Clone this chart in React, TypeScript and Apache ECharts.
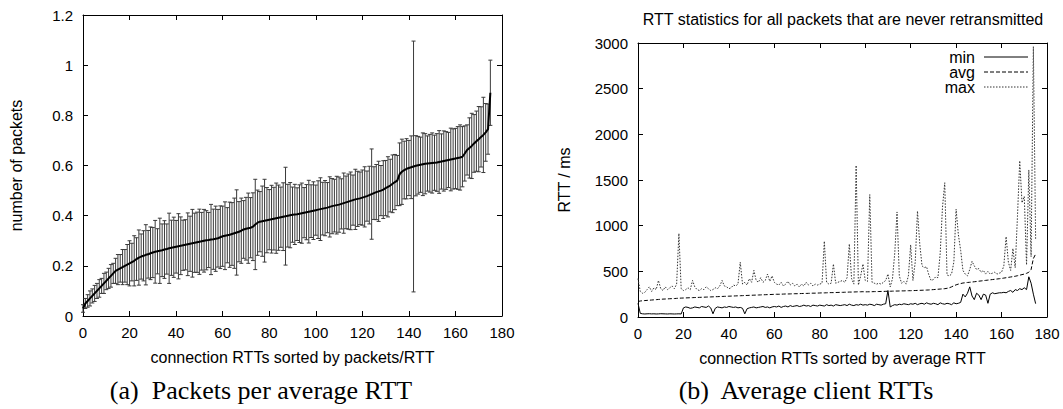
import React, { useEffect, useRef } from 'react';
import * as echarts from 'echarts';

// ---- (a) packets per average RTT: mean and spread (error bar half-height) per connection ----
const packetMean = [
  0.03, 0.05, 0.06, 0.07, 0.08, 0.09, 0.10, 0.11, 0.12, 0.13,
  0.14, 0.15, 0.16, 0.17, 0.18, 0.185, 0.19, 0.195, 0.20, 0.205,
  0.21, 0.215, 0.22, 0.227, 0.233, 0.237, 0.24, 0.244, 0.246, 0.25,
  0.253, 0.256, 0.258, 0.26, 0.262, 0.265, 0.267, 0.27, 0.272, 0.274,
  0.276, 0.278, 0.28, 0.282, 0.284, 0.286, 0.288, 0.29, 0.292, 0.294,
  0.296, 0.298, 0.30, 0.302, 0.303, 0.305, 0.306, 0.308, 0.31, 0.314,
  0.318, 0.32, 0.322, 0.324, 0.327, 0.33, 0.333, 0.336, 0.34, 0.345,
  0.348, 0.35, 0.352, 0.356, 0.365, 0.372, 0.376, 0.378, 0.38, 0.382,
  0.384, 0.386, 0.388, 0.39, 0.392, 0.394, 0.396, 0.398, 0.40, 0.402,
  0.404, 0.405, 0.406, 0.408, 0.41, 0.412, 0.414, 0.416, 0.418, 0.42,
  0.422, 0.424, 0.426, 0.428, 0.43, 0.432, 0.435, 0.438, 0.44, 0.442,
  0.444, 0.447, 0.45, 0.453, 0.456, 0.459, 0.462, 0.465, 0.467, 0.469,
  0.472, 0.475, 0.478, 0.482, 0.486, 0.49, 0.494, 0.497, 0.50, 0.504,
  0.51, 0.515, 0.52, 0.527, 0.534, 0.54, 0.565, 0.575, 0.582, 0.587,
  0.59, 0.593, 0.596, 0.599, 0.601, 0.603, 0.605, 0.607, 0.608, 0.609,
  0.61, 0.611, 0.612, 0.614, 0.616, 0.618, 0.62, 0.622, 0.624, 0.626,
  0.628, 0.63, 0.632, 0.635, 0.648, 0.662, 0.67, 0.678, 0.688, 0.697,
  0.705, 0.714, 0.722, 0.732, 0.745, 0.89,
];

const packetSpread = [
  0.015, 0.02, 0.025, 0.03, 0.028, 0.032, 0.03, 0.035, 0.03, 0.04,
  0.035, 0.04, 0.045, 0.04, 0.05, 0.06, 0.055, 0.07, 0.065, 0.08,
  0.09, 0.075, 0.1, 0.085, 0.11, 0.09, 0.1, 0.12, 0.095, 0.105,
  0.1, 0.125, 0.09, 0.13, 0.105, 0.115, 0.1, 0.14, 0.11, 0.12,
  0.105, 0.13, 0.115, 0.1, 0.1, 0.125, 0.11, 0.135, 0.118, 0.12,
  0.13, 0.115, 0.125, 0.118, 0.11, 0.14, 0.12, 0.13, 0.115, 0.125,
  0.12, 0.135, 0.11, 0.13, 0.125, 0.14, 0.17, 0.12, 0.13, 0.115,
  0.125, 0.14, 0.12, 0.135, 0.18, 0.13, 0.12, 0.14, 0.165, 0.13,
  0.12, 0.135, 0.125, 0.14, 0.13, 0.12, 0.135, 0.195, 0.125, 0.13,
  0.11, 0.12, 0.105, 0.115, 0.12, 0.1, 0.11, 0.125, 0.105, 0.115,
  0.1, 0.115, 0.125, 0.105, 0.11, 0.1, 0.12, 0.11, 0.105, 0.115,
  0.11, 0.1, 0.12, 0.105, 0.11, 0.115, 0.1, 0.12, 0.11, 0.105,
  0.11, 0.12, 0.1, 0.115, 0.18, 0.105, 0.11, 0.12, 0.1, 0.115,
  0.11, 0.12, 0.105, 0.115, 0.11, 0.1, 0.125, 0.13, 0.115, 0.12,
  0.11, 0.125, 0.5, 0.12, 0.115, 0.11, 0.125, 0.12, 0.11, 0.115,
  0.12, 0.11, 0.115, 0.125, 0.11, 0.12, 0.115, 0.11, 0.125, 0.12,
  0.12, 0.125, 0.13, 0.12, 0.11, 0.1, 0.12, 0.13, 0.115, 0.12,
  0.13, 0.12, 0.15, 0.115, 0.1, 0.13,
];

// ---- (b) RTT statistics (ms) per connection ----
const minRtt = [
  150, 40, 35, 33, 35, 36, 34, 35, 33, 34,
  36, 35, 34, 33, 35, 34, 33, 34, 35, 33,
  100, 110, 105, 95, 100, 110, 105, 100, 115, 110,
  105, 120, 100, 35, 95, 110, 105, 100, 110, 105,
  115, 110, 105, 110, 100, 105, 95, 35, 90, 100,
  105, 110, 100, 105, 110, 115, 105, 110, 100, 110,
  115, 110, 120, 105, 115, 120, 110, 125, 115, 120,
  125, 115, 120, 130, 120, 125, 115, 130, 125, 120,
  130, 125, 120, 135, 125, 130, 120, 135, 130, 125,
  130, 135, 125, 140, 130, 125, 135, 130, 140, 130,
  135, 130, 140, 135, 125, 140, 135, 130, 140, 145,
  290, 110, 125, 135, 130, 140, 135, 145, 140, 135,
  145, 140, 150, 135, 145, 150, 140, 155, 145, 140,
  150, 145, 135, 155, 145, 140, 150, 145, 135, 155,
  145, 150, 160, 250, 220, 260, 330, 230, 190, 260,
  240, 190, 250, 240, 150, 250, 265, 255, 260, 265,
  265, 270, 265, 280, 290, 270, 300, 290, 310, 300,
  320, 300, 440, 370, 250, 146,
];

const avgRtt = [
  170, 175, 178, 180, 182, 184, 186, 188, 190, 192,
  194, 196, 197, 198, 200, 201, 202, 204, 206, 207,
  208, 209, 210, 211, 212, 213, 214, 215, 216, 217,
  218, 219, 220, 221, 222, 223, 224, 225, 226, 227,
  228, 229, 230, 231, 232, 233, 234, 235, 236, 237,
  238, 239, 240, 241, 242, 243, 244, 245, 246, 247,
  248, 249, 249, 250, 251, 252, 252, 253, 254, 255,
  255, 256, 257, 258, 258, 259, 260, 261, 261, 262,
  263, 264, 264, 265, 266, 267, 267, 268, 269, 270,
  270, 271, 272, 273, 273, 274, 275, 276, 276, 277,
  275, 276, 276, 277, 278, 278, 279, 280, 280, 281,
  282, 282, 283, 284, 284, 285, 286, 286, 287, 288,
  288, 289, 290, 291, 292, 293, 294, 295, 296, 298,
  300, 302, 304, 306, 308, 310, 314, 320, 330, 342,
  352, 360, 366, 372, 375, 378, 380, 383, 386, 389,
  392, 395, 398, 401, 404, 407, 410, 413, 416, 419,
  422, 426, 430, 434, 438, 442, 446, 452, 458, 464,
  470, 478, 490, 520, 640, 690,
];

const maxRtt = [
  420, 280, 260, 270, 300, 330, 280, 320, 300, 400,
  310, 290, 330, 300, 320, 340, 310, 360, 915, 310,
  290, 300, 320, 300, 400, 330, 300, 290, 310, 300,
  330, 310, 290, 300, 320, 310, 340, 400, 340, 330,
  310, 320, 350, 340, 360, 600, 360, 380, 350, 420,
  380, 510, 400, 380, 430, 380, 400, 470, 390, 450,
  380, 360, 350, 380, 340, 360, 390, 350, 370, 340,
  360, 330, 360, 340, 380, 350, 370, 340, 360, 350,
  360, 370, 830, 380, 360, 370, 580, 370, 380, 390,
  400, 380, 430, 800, 420, 360, 1660, 350, 450, 580,
  400, 390, 1340, 380, 370, 360, 370, 360, 380, 400,
  470, 330, 420, 700, 1150, 450, 370, 390, 360, 450,
  790, 400, 600, 1160, 800, 560, 540, 550, 460, 400,
  410, 440, 430, 700, 1200, 1470, 460, 450, 470, 600,
  1180, 900, 730, 510, 470, 450, 520, 610, 560, 520,
  530, 490, 510, 470, 500, 470, 480, 490, 470, 480,
  490, 560, 880, 600, 510, 750, 540, 1100, 1710, 1250,
  1320, 570, 1610, 660, 2960, 840,
];

const titleB = 'RTT statistics for all packets that are never retransmitted';
const legendNames = ['min', 'avg', 'max'];
const captionA = '(a)  Packets per average RTT';
const captionB = '(b)  Average client RTTs';

const SANS = '"Liberation Sans", Arial, Helvetica, sans-serif';
const SERIF = '"Liberation Serif", "Times New Roman", serif';

function xAxisCfg(gridIndex: number, position: string, labels: boolean, name?: string) {
  return {
    type: 'value',
    gridIndex,
    position,
    min: 0,
    max: 180,
    interval: 20,
    name: name || '',
    nameLocation: 'middle',
    nameGap: 33,
    nameTextStyle: { color: '#000', fontSize: 16, fontFamily: SANS },
    axisLine: { show: true, onZero: false, lineStyle: { color: '#000', width: 1 } },
    axisTick: { show: true, inside: true, length: 5, lineStyle: { color: '#000', width: 1 } },
    axisLabel: { show: labels, color: '#000', fontSize: 15, fontFamily: SANS, margin: 9 },
    splitLine: { show: false },
  };
}

function yAxisCfg(gridIndex: number, position: string, labels: boolean, min: number, max: number, interval: number, name: string, gap: number, fmt: (v: number) => string) {
  return {
    type: 'value',
    gridIndex,
    position,
    min,
    max,
    interval,
    name,
    nameLocation: 'middle',
    nameGap: gap,
    nameRotate: 90,
    nameTextStyle: { color: '#000', fontSize: 16, fontFamily: SANS },
    axisLine: { show: true, onZero: false, lineStyle: { color: '#000', width: 1 } },
    axisTick: { show: true, inside: true, length: 5, lineStyle: { color: '#000', width: 1 } },
    axisLabel: { show: labels, color: '#000', fontSize: 15, fontFamily: SANS, margin: 10, formatter: fmt },
    splitLine: { show: false },
  };
}

export default function App() {
  const ref = useRef<HTMLDivElement>(null);

  useEffect(() => {
    const chart = echarts.init(ref.current!, null, { renderer: 'svg' });

    const meanData = packetMean.map((m, i) => [i, m]);
    const errData = packetMean.map((m, i) => [i, m - packetSpread[i], m + packetSpread[i]]);
    const minData = minRtt.map((v, i) => [i, v]);
    const avgData = avgRtt.map((v, i) => [i, v]);
    const maxData = maxRtt.map((v, i) => [i, v]);

    const fmtA = (v: number) => String(Math.round(v * 10) / 10);
    const fmtB = (v: number) => String(v);

    const lineStyles: any[] = [
      { stroke: '#000', lineWidth: 1 },
      { stroke: '#000', lineWidth: 1, lineDash: [4, 2] },
      { stroke: '#333', lineWidth: 1, lineDash: [1.5, 1.5] },
    ];
    const legendY = [57, 72, 87];

    const option: any = {
      animation: false,
      backgroundColor: '#fff',
      grid: [
        { left: 83, top: 15, width: 419, height: 301, containLabel: false },
        { left: 638, top: 43, width: 409, height: 274, containLabel: false },
      ],
      xAxis: [
        xAxisCfg(0, 'bottom', true, 'connection RTTs sorted by packets/RTT'),
        xAxisCfg(0, 'top', false),
        xAxisCfg(1, 'bottom', true, 'connection RTTs sorted by average RTT'),
        xAxisCfg(1, 'top', false),
      ],
      yAxis: [
        yAxisCfg(0, 'left', true, 0, 1.2, 0.2, 'number of packets', 59, fmtA),
        yAxisCfg(0, 'right', false, 0, 1.2, 0.2, '', 0, fmtA),
        yAxisCfg(1, 'left', true, 0, 3000, 500, 'RTT / ms', 66, fmtB),
        yAxisCfg(1, 'right', false, 0, 3000, 500, '', 0, fmtB),
      ],
      series: [
        {
          type: 'custom',
          name: 'spread',
          xAxisIndex: 0,
          yAxisIndex: 0,
          data: errData,
          encode: { x: 0, y: [1, 2] },
          renderItem: (params: any, api: any) => {
            const x = api.value(0);
            const lo = api.coord([x, api.value(1)]);
            const hi = api.coord([x, api.value(2)]);
            const hw = 2;
            const st = { stroke: '#3a3a3a', lineWidth: 1 };
            return {
              type: 'group',
              children: [
                { type: 'line', shape: { x1: lo[0], y1: lo[1], x2: hi[0], y2: hi[1] }, style: st },
                { type: 'line', shape: { x1: lo[0] - hw, y1: lo[1], x2: lo[0] + hw, y2: lo[1] }, style: st },
                { type: 'line', shape: { x1: hi[0] - hw, y1: hi[1], x2: hi[0] + hw, y2: hi[1] }, style: st },
              ],
            };
          },
          z: 2,
        },
        {
          type: 'line',
          name: 'mean',
          xAxisIndex: 0,
          yAxisIndex: 0,
          data: meanData,
          symbol: 'none',
          lineStyle: { color: '#000', width: 2 },
          z: 3,
        },
        {
          type: 'line',
          name: 'min',
          xAxisIndex: 2,
          yAxisIndex: 2,
          data: minData,
          symbol: 'none',
          lineStyle: { color: '#000', width: 1 },
        },
        {
          type: 'line',
          name: 'avg',
          xAxisIndex: 2,
          yAxisIndex: 2,
          data: avgData,
          symbol: 'none',
          lineStyle: { color: '#000', width: 1, type: [4, 2] },
        },
        {
          type: 'line',
          name: 'max',
          xAxisIndex: 2,
          yAxisIndex: 2,
          data: maxData,
          symbol: 'none',
          lineStyle: { color: '#333', width: 1, type: [1.5, 1.5] },
        },
      ],
      graphic: [
        {
          type: 'text',
          x: 843,
          y: 19,
          style: { text: titleB, fill: '#000', font: `16px ${SANS}`, textAlign: 'center', textVerticalAlign: 'middle' },
        },
        ...legendNames.map((n, i) => ({
          type: 'text',
          x: 975,
          y: legendY[i],
          style: { text: n, fill: '#000', font: `16px ${SANS}`, textAlign: 'right', textVerticalAlign: 'middle' },
        })),
        ...legendNames.map((n, i) => ({
          type: 'line',
          shape: { x1: 984, y1: legendY[i], x2: 1028, y2: legendY[i] },
          style: lineStyles[i],
        })),
        {
          type: 'text',
          x: 261,
          y: 390,
          style: { text: captionA, fill: '#000', font: `26px ${SERIF}`, textAlign: 'center', textVerticalAlign: 'middle' },
        },
        {
          type: 'text',
          x: 806,
          y: 390,
          style: { text: captionB, fill: '#000', font: `26px ${SERIF}`, textAlign: 'center', textVerticalAlign: 'middle' },
        },
      ],
    };

    chart.setOption(option);
    return () => chart.dispose();
  }, []);

  return (
    <div
      ref={ref}
      style={{ position: 'fixed', left: 0, top: 0, width: 1063, height: 409, background: '#fff' }}
    />
  );
}
